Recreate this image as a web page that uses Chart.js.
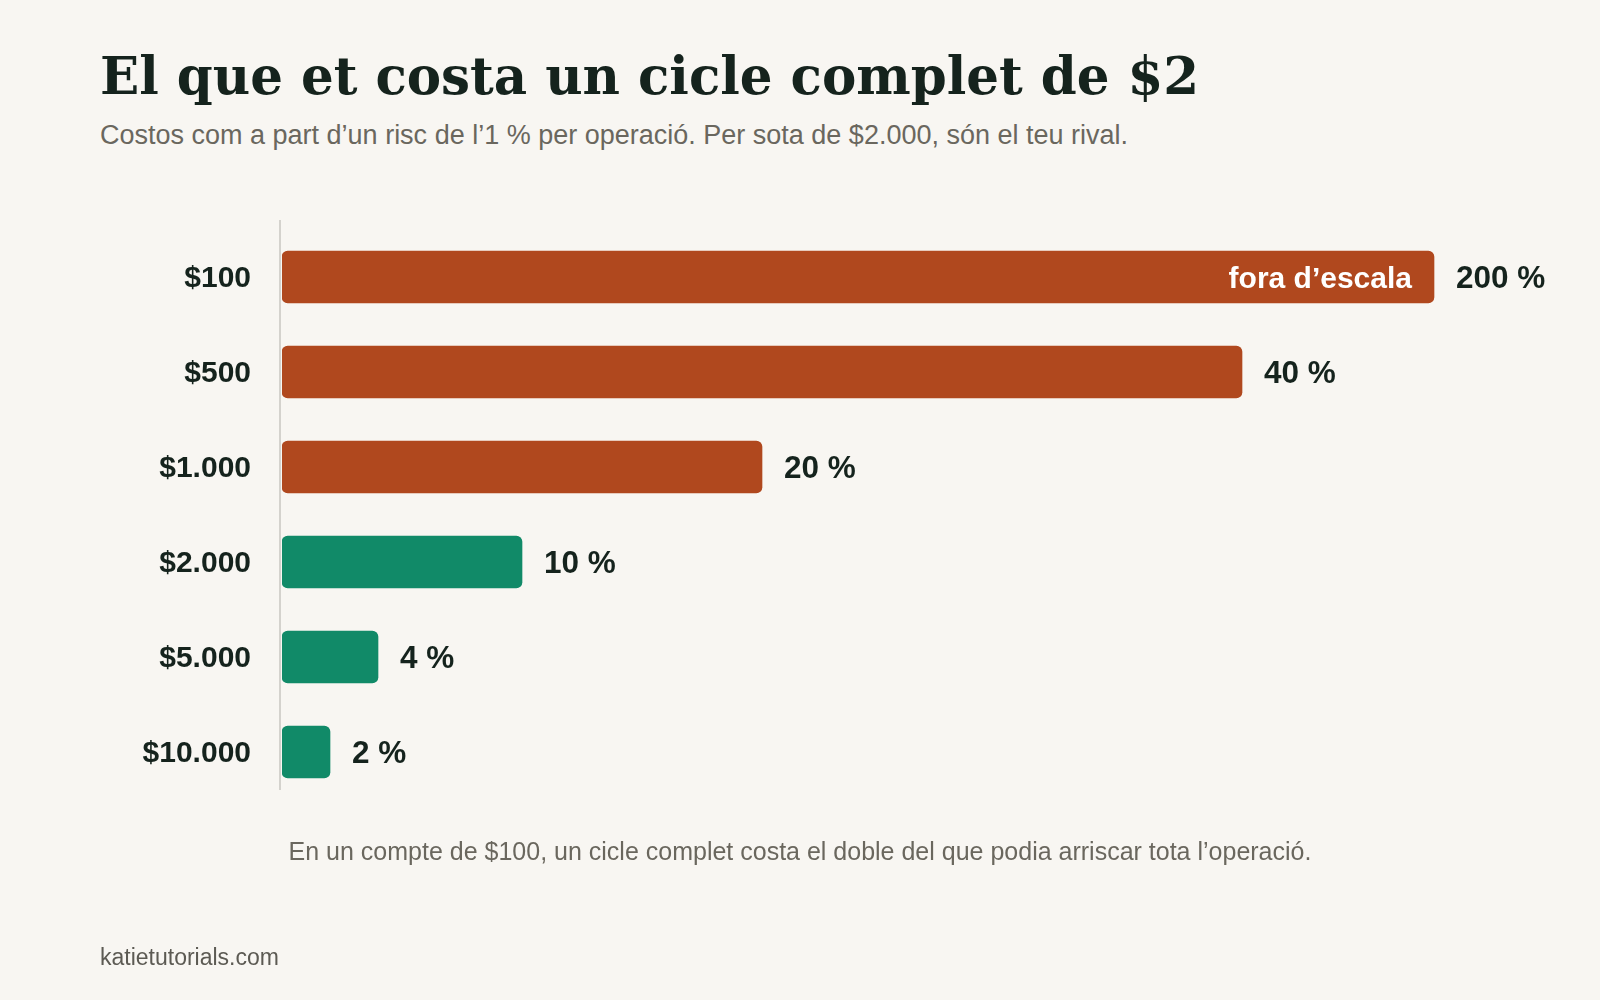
<!DOCTYPE html>
<html lang="ca">
<head>
<meta charset="utf-8">
<title>El que et costa un cicle complet de $2</title>
<script src="https://cdn.jsdelivr.net/npm/chart.js@4.4.1/dist/chart.umd.min.js"></script>
<style>
  html, body { margin: 0; padding: 0; background: #f8f6f2; }
  body {
    width: 1600px; height: 1000px; position: relative; overflow: hidden;
    font-family: "Liberation Sans", Arial, sans-serif;
  }
  #chartWrap { position: absolute; left: 0; top: 0; width: 1600px; height: 1000px; }
  .txt { position: absolute; margin: 0; line-height: 1; white-space: nowrap; }
  #title {
    left: 100px; top: 51px;
    font-family: Georgia, "DejaVu Serif", serif; font-weight: bold;
    font-size: 51.5px; color: #15231d;
  }
  #subtitle { left: 100px; top: 122px; font-size: 27px; color: #6a675e; }
  #note { left: 0; width: 1600px; text-align: center; top: 838.8px; font-size: 25px; color: #6a675e; }
  #source { left: 100px; top: 946.2px; font-size: 23px; color: #5c5a53; }
</style>
</head>
<body>
<h1 class="txt" id="title">El que et costa un cicle complet de $2</h1>
<p class="txt" id="subtitle">Costos com a part d’un risc de l’1 % per operació. Per sota de $2.000, són el teu rival.</p>
<div id="chartWrap"><canvas id="costChart"></canvas></div>
<p class="txt" id="note">En un compte de $100, un cicle complet costa el doble del que podia arriscar tota l’operació.</p>
<p class="txt" id="source">katietutorials.com</p>

<script>
// Account sizes and round-trip cost as % of the 1% risk
const categories = ['$100', '$500', '$1.000', '$2.000', '$5.000', '$10.000'];
const costPct = [200, 40, 20, 10, 4, 2];

// Scale: bars above the cap are cut and marked off-scale
const axisMax = 50;
const offScaleCap = 48;
const offScaleText = 'fora d’escala';

const RED = '#b0481e';
const GREEN = '#118a68';
const INK = '#15231d';
const SANS = '"Liberation Sans", Arial, sans-serif';

// Axis line and value labels drawn on top of the bars
const barLabels = {
    id: 'barLabels',
    beforeDatasetsDraw(chart) {
        const { ctx, chartArea } = chart;
        ctx.save();
        ctx.strokeStyle = '#d4d2cd';
        ctx.lineWidth = 2;
        ctx.beginPath();
        ctx.moveTo(chartArea.left - 2, chartArea.top - 9.5);
        ctx.lineTo(chartArea.left - 2, chartArea.bottom - 9.5);
        ctx.stroke();
        ctx.restore();
    },
    afterDatasetsDraw(chart) {
        const { ctx } = chart;
        const meta = chart.getDatasetMeta(0);
        ctx.save();
        ctx.textBaseline = 'alphabetic';
        meta.data.forEach(function(bar, i) {
            ctx.font = 'bold 31.5px ' + SANS;
            ctx.fillStyle = INK;
            ctx.textAlign = 'left';
            ctx.fillText(costPct[i] + ' %', bar.x + 22, bar.y + 11.3);
            if (costPct[i] > offScaleCap) {
                ctx.font = 'bold 30px ' + SANS;
                ctx.fillStyle = '#ffffff';
                ctx.textAlign = 'right';
                ctx.fillText(offScaleText, bar.x - 22, bar.y + 11);
            }
        });
        ctx.restore();
    }
};

const ctx = document.getElementById('costChart').getContext('2d');
new Chart(ctx, {
    type: 'bar',
    data: {
        labels: categories,
        datasets: [{
            data: costPct.map(v => Math.min(v, offScaleCap)),
            backgroundColor: costPct.map(v => v > 10 ? RED : GREEN),
            borderRadius: 6,
            borderSkipped: false,
            barThickness: 52
        }]
    },
    options: {
        indexAxis: 'y',
        responsive: true,
        maintainAspectRatio: false,
        animation: false,
        layout: {
            padding: { left: 0, top: 229.5, right: 118, bottom: 200.5 }
        },
        scales: {
            x: {
                display: false,
                min: 0,
                max: axisMax
            },
            y: {
                grid: { display: false, drawTicks: false },
                border: { display: false },
                ticks: {
                    color: INK,
                    padding: 31,
                    labelOffset: 2,
                    font: { family: SANS, size: 30, weight: 'bold' }
                },
                afterFit: function(scale) { scale.width = 282; }
            }
        },
        plugins: {
            legend: { display: false },
            tooltip: { enabled: false }
        }
    },
    plugins: [barLabels]
});
</script>
</body>
</html>
